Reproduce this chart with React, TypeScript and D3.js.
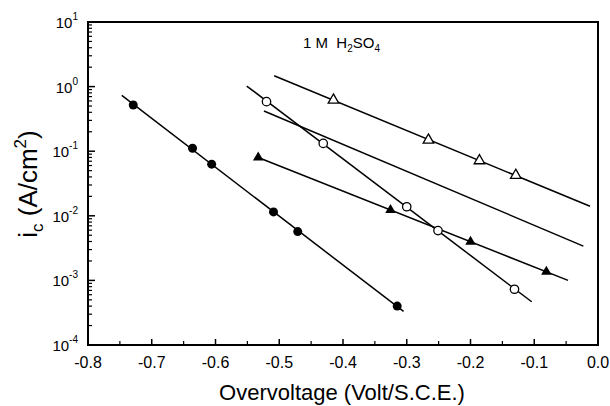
import React from 'react';
import * as d3 from 'd3';

// series (overvoltage in V, current density in A/cm2)
const filledCircleX = [-0.729, -0.636, -0.606, -0.509, -0.471, -0.315];
const filledCircleY = [0.52, 0.111, 0.063, 0.0115, 0.0057, 0.0004];
const filledCircleFit = [-0.747, -0.305];

const filledTriX = [-0.533, -0.3255, -0.2, -0.081];
const filledTriY = [0.08, 0.0123, 0.00397, 0.00136];
const filledTriFit = [-0.533, -0.047];

const openCircleX = [-0.52, -0.431, -0.3, -0.251, -0.131];
const openCircleY = [0.585, 0.132, 0.0138, 0.0059, 0.00073];
const openCircleFit = [-0.551, -0.104];

const openTriX = [-0.415, -0.266, -0.186, -0.129];
const openTriY = [0.62, 0.149, 0.0713, 0.0424];
const openTriFit = [-0.508, -0.0125];

// line without markers
const plainLineX = [-0.524, -0.023];
const plainLineY = [0.42, 0.0034];

const xTicks = [-0.8, -0.7, -0.6, -0.5, -0.4, -0.3, -0.2, -0.1, 0.0];
const yExponents = [1, 0, -1, -2, -3, -4];

const width = 610;
const height = 406;
const left = 88;
const right = 598;
const top = 22;
const bottom = 345;
const font = "Arial, 'Liberation Sans', sans-serif";

const x = d3.scaleLinear().domain([-0.8, 0]).range([left, right]);
const y = d3.scaleLog().domain([1e-4, 10]).range([bottom, top]);

// least squares in log space, drawn over the given range
function fitLine(xs: number[], ys: number[], range: number[]) {
  const ly = ys.map(v => Math.log10(v));
  const mx = d3.mean(xs)!;
  const my = d3.mean(ly)!;
  let num = 0, den = 0;
  xs.forEach((v, i) => { num += (v - mx) * (ly[i] - my); den += (v - mx) ** 2; });
  const b = num / den;
  const a = my - b * mx;
  return range.map(v => [v, Math.pow(10, a + b * v)] as [number, number]);
}

const line = d3.line<[number, number]>().x(d => x(d[0])).y(d => y(d[1]));
const tri = d3.symbol().type(d3.symbolTriangle).size(48)();

export default function App() {
  const minorY: number[] = [];
  for (let e = -4; e < 1; e++) {
    for (let m = 2; m <= 9; m++) minorY.push(m * Math.pow(10, e));
  }
  const minorX = d3.range(-0.75, 0, 0.1);

  const fits = [
    fitLine(filledCircleX, filledCircleY, filledCircleFit),
    fitLine(filledTriX, filledTriY, filledTriFit),
    fitLine(openCircleX, openCircleY, openCircleFit),
    fitLine(openTriX, openTriY, openTriFit),
    plainLineX.map((v, i) => [v, plainLineY[i]] as [number, number]),
  ];

  return (
    <svg width={width} height={height} style={{ position: 'absolute', left: 0, top: 0, background: '#fff' }}
      fontFamily={font}>
      {fits.map((f, i) => (
        <path key={i} d={line(f)!} fill="none" stroke="#000" strokeWidth={1.5} />
      ))}

      {filledCircleX.map((v, i) => (
        <circle key={'fc' + i} cx={x(v)} cy={y(filledCircleY[i])} r={4.5} fill="#000" />
      ))}
      {openCircleX.map((v, i) => (
        <circle key={'oc' + i} cx={x(v)} cy={y(openCircleY[i])} r={4.2} fill="#fff" stroke="#000" strokeWidth={1.3} />
      ))}
      {filledTriX.map((v, i) => (
        <path key={'ft' + i} d={tri!} transform={`translate(${x(v)},${y(filledTriY[i])})`} fill="#000" />
      ))}
      {openTriX.map((v, i) => (
        <path key={'ot' + i} d={tri!} transform={`translate(${x(v)},${y(openTriY[i])})`} fill="#fff" stroke="#000" strokeWidth={1.3} />
      ))}

      {/* frame */}
      <rect x={left} y={top} width={right - left} height={bottom - top} fill="none" stroke="#000" strokeWidth={2} />

      {/* left axis ticks */}
      {yExponents.map(e => (
        <line key={'yt' + e} x1={left} x2={left + 7} y1={y(Math.pow(10, e))} y2={y(Math.pow(10, e))} stroke="#000" strokeWidth={1.5} />
      ))}
      {minorY.map((v, i) => (
        <line key={'ym' + i} x1={left} x2={left + 4} y1={y(v)} y2={y(v)} stroke="#000" strokeWidth={1.2} />
      ))}
      {yExponents.map(e => (
        <text key={'yl' + e} x={78} y={y(Math.pow(10, e)) + 6} textAnchor="end" fontSize={15}>
          10<tspan fontSize={10} dy={-8}>{e}</tspan>
        </text>
      ))}

      {/* bottom axis ticks */}
      {xTicks.map(v => (
        <line key={'xt' + v} x1={x(v)} x2={x(v)} y1={bottom} y2={bottom - 6} stroke="#000" strokeWidth={1.5} />
      ))}
      {minorX.map((v, i) => (
        <line key={'xm' + i} x1={x(v)} x2={x(v)} y1={bottom} y2={bottom - 4} stroke="#000" strokeWidth={1.2} />
      ))}
      {xTicks.map(v => (
        <text key={'xl' + v} x={x(v)} y={368} textAnchor="middle" fontSize={16}>
          {v.toFixed(1)}
        </text>
      ))}

      <text x={342} y={400} textAnchor="middle" fontSize={22}>Overvoltage (Volt/S.C.E.)</text>

      <text transform={`translate(37,184) rotate(-90)`} textAnchor="middle" fontSize={26}>
        i<tspan fontSize={17} dy={6}>c</tspan>
        <tspan dy={-6}>{' (A/cm'}</tspan>
        <tspan fontSize={17} dy={-11}>2</tspan>
        <tspan dy={11}>)</tspan>
      </text>

      <text x={303} y={48} fontSize={15}>
        {'1 M\u00a0 H'}<tspan fontSize={10} dy={4}>2</tspan>
        <tspan dy={-4}>SO</tspan>
        <tspan fontSize={10} dy={4}>4</tspan>
      </text>
    </svg>
  );
}
